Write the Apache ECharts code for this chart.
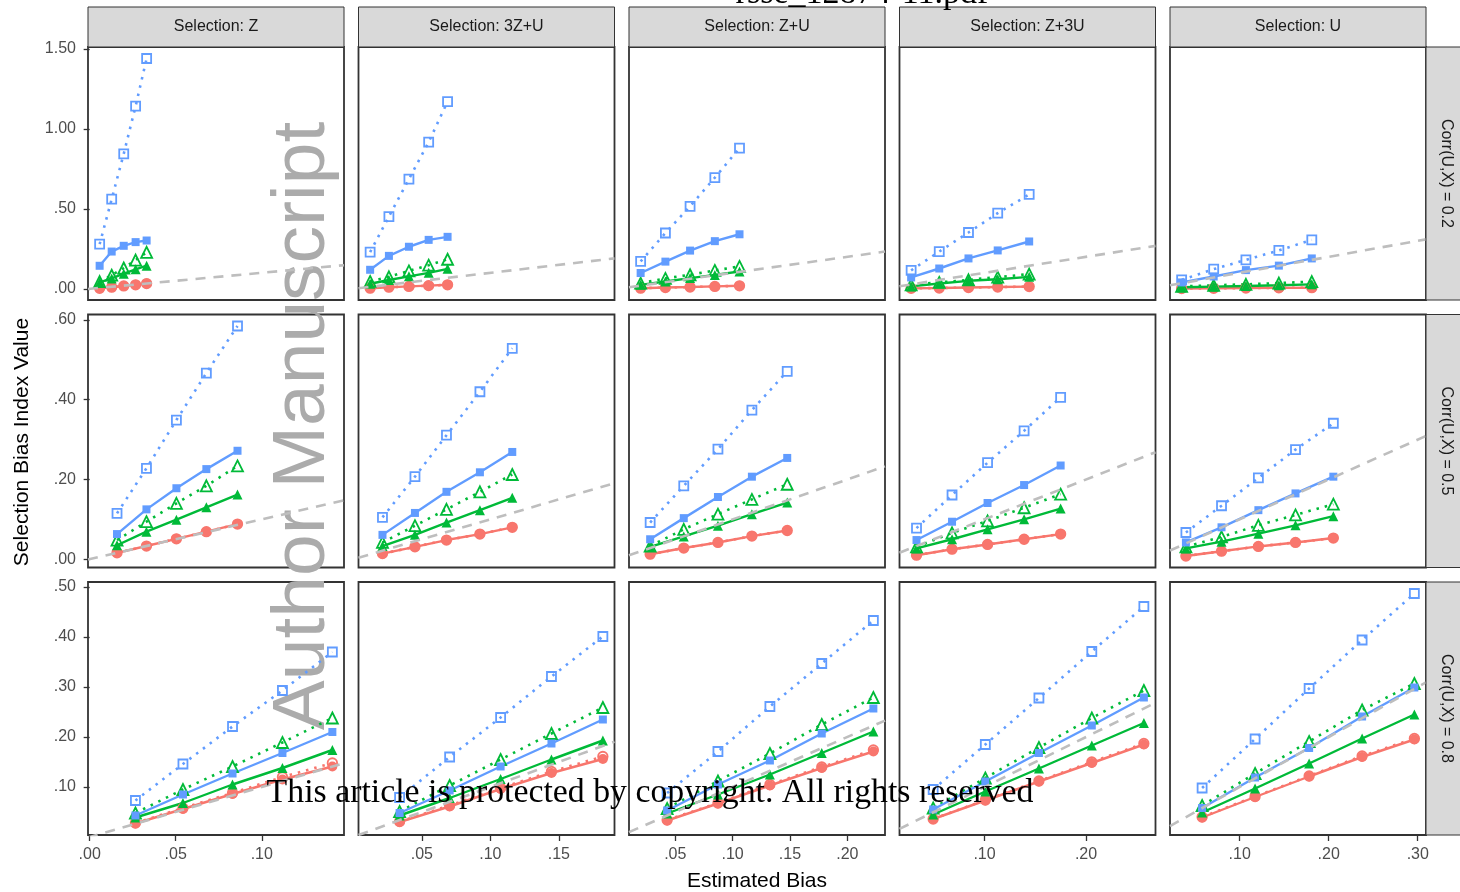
<!DOCTYPE html>
<html>
<head>
<meta charset="utf-8">
<title>Selection Bias Index Value vs Estimated Bias</title>
<script src="https://cdn.jsdelivr.net/npm/echarts@6/dist/echarts.min.js"></script>
<style>
  html, body { margin: 0; padding: 0; background: #fff; }
  #chart-main { width: 1460px; height: 892px; }
</style>
</head>
<body>
<div id="chart-main"></div>
<script>
// facet labels
const selections = ['Selection: Z', 'Selection: 3Z+U', 'Selection: Z+U', 'Selection: Z+3U', 'Selection: U'];
const corrLabels = ['Corr(U,X) = 0.2', 'Corr(U,X) = 0.5', 'Corr(U,X) = 0.8'];

// tick values (x per column, y per row)
const xTicks = [[0, 0.05, 0.10], [0.05, 0.10, 0.15], [0.05, 0.10, 0.15, 0.20], [0.10, 0.20], [0.10, 0.20, 0.30]];
const yTicks = [[0, 0.5, 1.0, 1.5], [0, 0.2, 0.4, 0.6], [0.1, 0.2, 0.3, 0.4, 0.5]];

// estimated bias (x), [row][col][point]
const estimatedBias = [
  [[0.0058, 0.0128, 0.0198, 0.0267, 0.0331], [0.0123, 0.026, 0.0406, 0.055, 0.0688], [0.0198, 0.0414, 0.0629, 0.0845, 0.106], [0.0277, 0.0554, 0.0842, 0.113, 0.144], [0.0348, 0.0708, 0.107, 0.144, 0.181]],
  [[0.0159, 0.033, 0.0504, 0.0678, 0.0859], [0.0213, 0.045, 0.068, 0.0924, 0.116], [0.0281, 0.0574, 0.0872, 0.1168, 0.1476], [0.033, 0.068, 0.103, 0.139, 0.175], [0.0396, 0.0796, 0.121, 0.1627, 0.2052]],
  [[0.0266, 0.0542, 0.083, 0.112, 0.141], [0.0338, 0.0703, 0.1075, 0.1446, 0.1821], [0.0429, 0.0872, 0.1325, 0.1777, 0.2227], [0.0494, 0.1008, 0.1536, 0.2057, 0.257], [0.0578, 0.1173, 0.178, 0.2375, 0.2962]]
];

// index values (y), [row][col][point]
const redSolid = [
  [[0.003, 0.01, 0.018, 0.025, 0.033], [0.004, 0.01, 0.015, 0.02, 0.025], [0.004, 0.008, 0.011, 0.015, 0.019], [0.003, 0.005, 0.008, 0.011, 0.014], [0.002, 0.003, 0.005, 0.006, 0.007]],
  [[0.016, 0.033, 0.051, 0.069, 0.088], [0.014, 0.031, 0.048, 0.063, 0.08], [0.0125, 0.028, 0.042, 0.058, 0.072], [0.01, 0.025, 0.037, 0.05, 0.063], [0.008, 0.02, 0.032, 0.042, 0.053]],
  [[0.027, 0.056, 0.086, 0.115, 0.141], [0.03, 0.061, 0.096, 0.128, 0.156], [0.033, 0.067, 0.103, 0.138, 0.171], [0.036, 0.073, 0.111, 0.148, 0.185], [0.039, 0.08, 0.121, 0.16, 0.195]]
];
const redDotted = [
  [[0.003, 0.01, 0.018, 0.025, 0.033], [0.004, 0.01, 0.015, 0.02, 0.025], [0.004, 0.008, 0.011, 0.015, 0.019], [0.003, 0.005, 0.008, 0.011, 0.014], [0.002, 0.003, 0.005, 0.006, 0.007]],
  [[0.016, 0.033, 0.051, 0.069, 0.088], [0.014, 0.031, 0.048, 0.063, 0.08], [0.0125, 0.028, 0.042, 0.058, 0.072], [0.01, 0.025, 0.037, 0.05, 0.063], [0.008, 0.02, 0.032, 0.042, 0.053]],
  [[0.028, 0.058, 0.088, 0.12, 0.148], [0.031, 0.063, 0.098, 0.131, 0.161], [0.034, 0.068, 0.105, 0.14, 0.174], [0.036, 0.074, 0.112, 0.15, 0.187], [0.04, 0.081, 0.122, 0.162, 0.197]]
];
const greenSolid = [
  [[0.04, 0.065, 0.095, 0.122, 0.145], [0.032, 0.055, 0.078, 0.1, 0.125], [0.025, 0.046, 0.067, 0.087, 0.108], [0.015, 0.033, 0.05, 0.06, 0.075], [0.01, 0.014, 0.018, 0.022, 0.028]],
  [[0.035, 0.069, 0.099, 0.13, 0.162], [0.033, 0.061, 0.092, 0.123, 0.154], [0.031, 0.057, 0.084, 0.113, 0.142], [0.027, 0.05, 0.075, 0.1, 0.127], [0.027, 0.044, 0.064, 0.085, 0.108]],
  [[0.039, 0.068, 0.105, 0.138, 0.174], [0.043, 0.078, 0.116, 0.155, 0.193], [0.047, 0.085, 0.125, 0.168, 0.211], [0.045, 0.091, 0.137, 0.183, 0.228], [0.049, 0.097, 0.147, 0.197, 0.245]]
];
const greenDotted = [
  [[0.045, 0.085, 0.13, 0.18, 0.228], [0.046, 0.075, 0.112, 0.148, 0.185], [0.035, 0.065, 0.088, 0.115, 0.14], [0.025, 0.04, 0.056, 0.073, 0.092], [0.015, 0.022, 0.028, 0.036, 0.045]],
  [[0.048, 0.094, 0.14, 0.184, 0.234], [0.042, 0.084, 0.125, 0.169, 0.2125], [0.033, 0.075, 0.113, 0.15, 0.188], [0.031, 0.066, 0.096, 0.129, 0.163], [0.031, 0.056, 0.085, 0.111, 0.138]],
  [[0.048, 0.095, 0.141, 0.189, 0.238], [0.051, 0.103, 0.155, 0.207, 0.259], [0.057, 0.112, 0.167, 0.225, 0.279], [0.058, 0.118, 0.179, 0.238, 0.293], [0.063, 0.127, 0.191, 0.254, 0.307]]
];
const blueSolid = [
  [[0.144, 0.233, 0.269, 0.292, 0.302], [0.119, 0.206, 0.263, 0.306, 0.325], [0.099, 0.17, 0.239, 0.298, 0.341], [0.071, 0.127, 0.19, 0.24, 0.296], [0.04, 0.077, 0.117, 0.145, 0.19]],
  [[0.063, 0.125, 0.178, 0.226, 0.272], [0.061, 0.116, 0.169, 0.218, 0.269], [0.05, 0.103, 0.156, 0.207, 0.254], [0.048, 0.094, 0.141, 0.186, 0.235], [0.042, 0.08, 0.123, 0.165, 0.207]],
  [[0.043, 0.085, 0.127, 0.168, 0.21], [0.048, 0.093, 0.141, 0.187, 0.235], [0.053, 0.105, 0.153, 0.207, 0.257], [0.055, 0.111, 0.168, 0.223, 0.279], [0.058, 0.119, 0.178, 0.241, 0.299]]
];
const blueDotted = [
  [[0.279, 0.561, 0.844, 1.142, 1.44], [0.229, 0.452, 0.686, 0.917, 1.171], [0.171, 0.349, 0.516, 0.695, 0.88], [0.115, 0.233, 0.352, 0.473, 0.59], [0.056, 0.123, 0.181, 0.24, 0.306]],
  [[0.115, 0.228, 0.349, 0.467, 0.585], [0.105, 0.207, 0.311, 0.42, 0.529], [0.092, 0.184, 0.276, 0.374, 0.471], [0.078, 0.161, 0.242, 0.322, 0.406], [0.067, 0.134, 0.204, 0.275, 0.341]],
  [[0.073, 0.146, 0.221, 0.293, 0.37], [0.079, 0.16, 0.239, 0.321, 0.401], [0.088, 0.171, 0.261, 0.347, 0.433], [0.095, 0.185, 0.278, 0.371, 0.461], [0.098, 0.196, 0.297, 0.394, 0.487]]
];

const SANS = '"Liberation Sans", Arial, Helvetica, sans-serif';
const SERIF = '"Liberation Serif", "Times New Roman", serif';
const RED = '#F8766D', GREEN = '#00BA38', BLUE = '#619CFF';

// how each index is drawn
const seriesDefs = [
  { values: redDotted, color: RED, dotted: true, symbol: 'circle', open: true, size: 9.5 },
  { values: redSolid, color: RED, dotted: false, symbol: 'circle', open: false, size: 10 },
  { values: greenDotted, color: GREEN, dotted: true, symbol: 'triangle', open: true, size: 11 },
  { values: greenSolid, color: GREEN, dotted: false, symbol: 'triangle', open: false, size: 10 },
  { values: blueDotted, color: BLUE, dotted: true, symbol: 'rect', open: true, size: 9 },
  { values: blueSolid, color: BLUE, dotted: false, symbol: 'rect', open: false, size: 8 }
];

// ggplot-like 5% expansion
function expand(vals) {
  const lo = Math.min(...vals), hi = Math.max(...vals);
  const pad = (hi - lo) * 0.05;
  return [lo - pad, hi + pad];
}
function fmt(v) {
  const s = v.toFixed(2);
  return v < 1 ? s.replace(/^0/, '') : s;
}

const xRange = selections.map((_, c) => expand([].concat(...estimatedBias.map(row => row[c]))));
const yRange = corrLabels.map((_, r) => {
  let all = [];
  seriesDefs.forEach(d => d.values[r].forEach(v => { all = all.concat(v); }));
  return expand(all);
});

const PANEL_W = 256, PANEL_H = 253;
const colLeft = c => 88 + c * 270.5;
const rowTop = r => 47 + r * 267.5;

const grids = [], xAxes = [], yAxes = [], series = [], graphics = [];

for (let r = 0; r < 3; r++) {
  for (let c = 0; c < 5; c++) {
    const g = r * 5 + c;
    grids.push({
      left: colLeft(c), top: rowTop(r), width: PANEL_W, height: PANEL_H,
      show: true, borderColor: '#333', borderWidth: 1.8, backgroundColor: 'transparent'
    });
    xAxes.push({
      type: 'value', gridIndex: g, min: xRange[c][0], max: xRange[c][1],
      axisLine: { show: false }, splitLine: { show: false },
      axisTick: { show: r === 2, length: 6, customValues: xTicks[c], lineStyle: { color: '#333', width: 1.3 } },
      axisLabel: { show: r === 2, customValues: xTicks[c], formatter: fmt, color: '#4D4D4D', fontSize: 16, fontFamily: SANS, margin: 12 }
    });
    yAxes.push({
      type: 'value', gridIndex: g, min: yRange[r][0], max: yRange[r][1],
      axisLine: { show: false }, splitLine: { show: false },
      axisTick: { show: c === 0, length: 6, customValues: yTicks[r], lineStyle: { color: '#333', width: 1.3 } },
      axisLabel: { show: c === 0, customValues: yTicks[r], formatter: fmt, color: '#4D4D4D', fontSize: 16, fontFamily: SANS, margin: 12 }
    });
    seriesDefs.forEach(d => {
      series.push({
        type: 'line', xAxisIndex: g, yAxisIndex: g, silent: true, animation: false, z: 2,
        data: estimatedBias[r][c].map((x, i) => [x, d.values[r][c][i]]),
        symbol: d.symbol, symbolSize: d.size, showSymbol: true,
        lineStyle: { color: d.color, width: d.dotted ? 2.6 : 2.4, type: d.dotted ? [2.5, 6] : 'solid' },
        itemStyle: d.open
          ? { color: 'rgba(255,255,255,0)', borderColor: d.color, borderWidth: 1.8 }
          : { color: d.color, borderWidth: 0 }
      });
    });
    // y = x reference line
    series.push({
      type: 'line', xAxisIndex: g, yAxisIndex: g, silent: true, animation: false, z: 3, clip: true,
      data: [[xRange[c][0], xRange[c][0]], [xRange[c][1], xRange[c][1]]],
      symbol: 'none', lineStyle: { color: '#BEBEBE', width: 2.6, type: [10, 8] }
    });
  }
}

// strips
selections.forEach((s, c) => {
  graphics.push({
    type: 'rect', z: 5, shape: { x: colLeft(c), y: 7, width: PANEL_W, height: 40 },
    style: { fill: '#D9D9D9', stroke: '#333', lineWidth: 1 }
  });
  graphics.push({
    type: 'text', z: 6, x: colLeft(c) + PANEL_W / 2, y: 27,
    style: { text: s, font: '16px ' + SANS, fill: '#1A1A1A', textAlign: 'center', textVerticalAlign: 'middle', align: 'center', verticalAlign: 'middle' }
  });
});
corrLabels.forEach((s, r) => {
  graphics.push({
    type: 'rect', z: 5, shape: { x: 1426, y: rowTop(r), width: 42, height: PANEL_H },
    style: { fill: '#D9D9D9', stroke: '#333', lineWidth: 1 }
  });
  graphics.push({
    type: 'text', z: 6, x: 1446, y: rowTop(r) + PANEL_H / 2, rotation: -Math.PI / 2,
    style: { text: s, font: '16px ' + SANS, fill: '#1A1A1A', textAlign: 'center', textVerticalAlign: 'middle', align: 'center', verticalAlign: 'middle' }
  });
});

// axis titles
graphics.push({
  type: 'text', z: 6, x: 22, y: 442, rotation: Math.PI / 2,
  style: { text: 'Selection Bias Index Value', font: '21px ' + SANS, fill: '#000', textAlign: 'center', textVerticalAlign: 'middle', align: 'center', verticalAlign: 'middle' }
});
graphics.push({
  type: 'text', z: 6, x: 757, y: 881,
  style: { text: 'Estimated Bias', font: '21px ' + SANS, fill: '#000', textAlign: 'center', textVerticalAlign: 'middle', align: 'center', verticalAlign: 'middle' }
});

// watermarks
graphics.push({
  type: 'text', z: 1, x: 303, y: 426, rotation: Math.PI / 2,
  style: { text: 'Author Manuscript', font: '75px ' + SANS, fill: '#ABABAB', textAlign: 'center', textVerticalAlign: 'middle', align: 'center', verticalAlign: 'middle' }
});
graphics.push({
  type: 'text', z: 100, x: 650, y: 793,
  style: { text: 'This article is protected by copyright. All rights reserved', font: '33.8px ' + SERIF, fill: '#000', textAlign: 'center', textVerticalAlign: 'middle', align: 'center', verticalAlign: 'middle' }
});
graphics.push({
  type: 'text', z: 100, x: 862, y: -6,
  style: { text: 'rsse_12874-11.pdf', font: '34px ' + SERIF, fill: '#000', textAlign: 'center', textVerticalAlign: 'middle', align: 'center', verticalAlign: 'middle' }
});

const myChart = echarts.init(document.getElementById('chart-main'), null, { renderer: 'canvas' });
myChart.setOption({
  animation: false,
  backgroundColor: '#fff',
  grid: grids,
  xAxis: xAxes,
  yAxis: yAxes,
  series: series,
  graphic: { elements: graphics }
});
</script>
</body>
</html>
